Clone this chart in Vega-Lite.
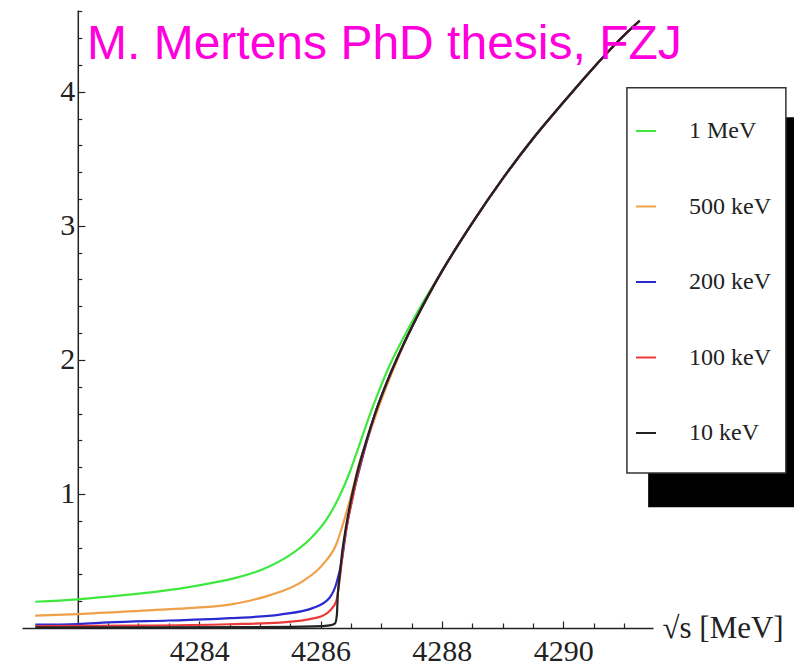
{
  "$schema": "https://vega.github.io/schema/vega-lite/v6.json",
  "width": 631,
  "height": 618,
  "autosize": {"type": "none"},
  "padding": {"left": 22, "top": 10, "right": 141, "bottom": 43},
  "background": "white",
  "title": {"text": "M. Mertens PhD thesis, FZJ", "anchor": "start", "frame": "group", "orient": "top", "offset": -48, "dx": 65, "dy": 49, "baseline": "alphabetic", "font": "Liberation Sans", "fontSize": 48, "fontWeight": "normal", "color": "#ff00dd"},
  "config": {"view": {"stroke": null}},
  "resolve": {"axis": {"x": "independent", "y": "independent"}},
  "layer": [
    {
      "data": {"values": [
        {"E":4281.3,"v":0.196,"res":"1 MeV"},{"E":4282,"v":0.214,"res":"1 MeV"},{"E":4282.5,"v":0.234,"res":"1 MeV"},{"E":4283.24,"v":0.268,"res":"1 MeV"},{"E":4283.8,"v":0.303,"res":"1 MeV"},{"E":4284.3,"v":0.344,"res":"1 MeV"},{"E":4284.62,"v":0.376,"res":"1 MeV"},{"E":4285.05,"v":0.438,"res":"1 MeV"},{"E":4285.5,"v":0.545,"res":"1 MeV"},{"E":4285.82,"v":0.66,"res":"1 MeV"},{"E":4286.1,"v":0.81,"res":"1 MeV"},{"E":4286.32,"v":0.99,"res":"1 MeV"},{"E":4286.48,"v":1.16,"res":"1 MeV"},{"E":4286.59,"v":1.3,"res":"1 MeV"},{"E":4286.87,"v":1.66,"res":"1 MeV"},{"E":4287.14,"v":1.96,"res":"1 MeV"},{"E":4287.42,"v":2.21,"res":"1 MeV"},{"E":4287.69,"v":2.43,"res":"1 MeV"},{"E":4288,"v":2.66,"res":"1 MeV"},{"E":4288.5,"v":3.02,"res":"1 MeV"},{"E":4289,"v":3.35,"res":"1 MeV"},{"E":4289.5,"v":3.65,"res":"1 MeV"},{"E":4290,"v":3.92,"res":"1 MeV"},{"E":4290.5,"v":4.18,"res":"1 MeV"},{"E":4291,"v":4.42,"res":"1 MeV"},{"E":4291.26,"v":4.53,"res":"1 MeV"},

        {"E":4281.3,"v":0.092,"res":"500 keV"},{"E":4282,"v":0.104,"res":"500 keV"},{"E":4283.24,"v":0.134,"res":"500 keV"},{"E":4283.9,"v":0.15,"res":"500 keV"},{"E":4284.5,"v":0.175,"res":"500 keV"},{"E":4284.85,"v":0.205,"res":"500 keV"},{"E":4285.17,"v":0.245,"res":"500 keV"},{"E":4285.71,"v":0.35,"res":"500 keV"},{"E":4286.04,"v":0.475,"res":"500 keV"},{"E":4286.26,"v":0.625,"res":"500 keV"},{"E":4286.4,"v":0.82,"res":"500 keV"},{"E":4286.54,"v":1.05,"res":"500 keV"},{"E":4286.62,"v":1.2,"res":"500 keV"},{"E":4286.8,"v":1.44,"res":"500 keV"},{"E":4287,"v":1.7,"res":"500 keV"},{"E":4287.2,"v":1.93,"res":"500 keV"},{"E":4287.4,"v":2.14,"res":"500 keV"},{"E":4287.6,"v":2.33,"res":"500 keV"},{"E":4287.8,"v":2.5,"res":"500 keV"},{"E":4288,"v":2.66,"res":"500 keV"},{"E":4288.5,"v":3.02,"res":"500 keV"},{"E":4289,"v":3.35,"res":"500 keV"},{"E":4289.5,"v":3.65,"res":"500 keV"},{"E":4290,"v":3.92,"res":"500 keV"},{"E":4290.5,"v":4.18,"res":"500 keV"},{"E":4291,"v":4.42,"res":"500 keV"},{"E":4291.26,"v":4.53,"res":"500 keV"},

        {"E":4281.3,"v":0.025,"res":"200 keV"},{"E":4282,"v":0.03,"res":"200 keV"},{"E":4282.5,"v":0.042,"res":"200 keV"},{"E":4283.5,"v":0.056,"res":"200 keV"},{"E":4284.3,"v":0.068,"res":"200 keV"},{"E":4284.5,"v":0.073,"res":"200 keV"},{"E":4285.33,"v":0.1,"res":"200 keV"},{"E":4285.88,"v":0.15,"res":"200 keV"},{"E":4286.15,"v":0.226,"res":"200 keV"},{"E":4286.26,"v":0.33,"res":"200 keV"},{"E":4286.35,"v":0.5,"res":"200 keV"},{"E":4286.43,"v":0.75,"res":"200 keV"},{"E":4286.54,"v":1.0,"res":"200 keV"},{"E":4286.65,"v":1.2,"res":"200 keV"},{"E":4286.75,"v":1.37,"res":"200 keV"},{"E":4286.9,"v":1.6,"res":"200 keV"},{"E":4287.1,"v":1.84,"res":"200 keV"},{"E":4287.3,"v":2.05,"res":"200 keV"},{"E":4287.6,"v":2.33,"res":"200 keV"},{"E":4287.8,"v":2.5,"res":"200 keV"},{"E":4288,"v":2.66,"res":"200 keV"},{"E":4288.5,"v":3.02,"res":"200 keV"},{"E":4289,"v":3.35,"res":"200 keV"},{"E":4289.5,"v":3.65,"res":"200 keV"},{"E":4290,"v":3.92,"res":"200 keV"},{"E":4290.5,"v":4.18,"res":"200 keV"},{"E":4291,"v":4.42,"res":"200 keV"},{"E":4291.26,"v":4.53,"res":"200 keV"},

        {"E":4281.3,"v":0.015,"res":"100 keV"},{"E":4283,"v":0.018,"res":"100 keV"},{"E":4284.5,"v":0.028,"res":"100 keV"},{"E":4285.33,"v":0.04,"res":"100 keV"},{"E":4285.94,"v":0.077,"res":"100 keV"},{"E":4286.15,"v":0.127,"res":"100 keV"},{"E":4286.26,"v":0.2,"res":"100 keV"},{"E":4286.32,"v":0.375,"res":"100 keV"},{"E":4286.37,"v":0.575,"res":"100 keV"},{"E":4286.45,"v":0.8,"res":"100 keV"},{"E":4286.52,"v":0.95,"res":"100 keV"},{"E":4286.6,"v":1.12,"res":"100 keV"},{"E":4286.75,"v":1.38,"res":"100 keV"},{"E":4286.9,"v":1.6,"res":"100 keV"},{"E":4287.1,"v":1.84,"res":"100 keV"},{"E":4287.3,"v":2.05,"res":"100 keV"},{"E":4287.6,"v":2.33,"res":"100 keV"},{"E":4287.8,"v":2.5,"res":"100 keV"},{"E":4288,"v":2.66,"res":"100 keV"},{"E":4288.5,"v":3.02,"res":"100 keV"},{"E":4289,"v":3.35,"res":"100 keV"},{"E":4289.5,"v":3.65,"res":"100 keV"},{"E":4290,"v":3.92,"res":"100 keV"},{"E":4290.5,"v":4.18,"res":"100 keV"},{"E":4291,"v":4.42,"res":"100 keV"},{"E":4291.26,"v":4.53,"res":"100 keV"},

        {"E":4281.3,"v":0.005,"res":"10 keV"},{"E":4283,"v":0.005,"res":"10 keV"},{"E":4285,"v":0.007,"res":"10 keV"},{"E":4285.9,"v":0.012,"res":"10 keV"},{"E":4286.15,"v":0.02,"res":"10 keV"},{"E":4286.24,"v":0.035,"res":"10 keV"},{"E":4286.27,"v":0.1,"res":"10 keV"},{"E":4286.285,"v":0.25,"res":"10 keV"},{"E":4286.3,"v":0.33,"res":"10 keV"},{"E":4286.32,"v":0.41,"res":"10 keV"},{"E":4286.35,"v":0.54,"res":"10 keV"},{"E":4286.4,"v":0.7,"res":"10 keV"},{"E":4286.5,"v":0.95,"res":"10 keV"},{"E":4286.6,"v":1.15,"res":"10 keV"},{"E":4286.75,"v":1.39,"res":"10 keV"},{"E":4286.9,"v":1.6,"res":"10 keV"},{"E":4287.1,"v":1.84,"res":"10 keV"},{"E":4287.3,"v":2.05,"res":"10 keV"},{"E":4287.6,"v":2.33,"res":"10 keV"},{"E":4287.8,"v":2.5,"res":"10 keV"},{"E":4288,"v":2.66,"res":"10 keV"},{"E":4288.5,"v":3.02,"res":"10 keV"},{"E":4289,"v":3.35,"res":"10 keV"},{"E":4289.5,"v":3.65,"res":"10 keV"},{"E":4290,"v":3.92,"res":"10 keV"},{"E":4290.5,"v":4.18,"res":"10 keV"},{"E":4291,"v":4.42,"res":"10 keV"},{"E":4291.26,"v":4.53,"res":"10 keV"}
      ]},
      "mark": {"type": "line", "strokeWidth": 2.2, "interpolate": "monotone"},
      "encoding": {
        "x": {
          "field": "E", "type": "quantitative",
          "scale": {"domain": [4281.08, 4291.48], "nice": false, "zero": false},
          "axis": {
            "orient": "bottom",
            "values": [4284, 4286, 4288, 4290],
            "format": "d",
            "grid": false, "tickSize": -7, "tickWidth": 1.2, "tickColor": "#222",
            "domainColor": "#222", "domainWidth": 1.5,
            "labelFont": "Liberation Serif", "labelFontSize": 30, "labelColor": "#222", "labelPadding": 15,
            "labelOverlap": false, "labelFlush": false,
            "title": "√s [MeV]", "titleX": 640, "titleY": 0, "titleAlign": "left", "titleBaseline": "middle",
            "titleFont": "Liberation Serif", "titleFontSize": 31, "titleFontWeight": "normal", "titleColor": "#222"
          }
        },
        "y": {
          "field": "v", "type": "quantitative",
          "scale": {"domain": [0, 4.61], "nice": false, "zero": false},
          "axis": {
            "orient": "left",
            "values": [1, 2, 3, 4],
            "format": "d",
            "offset": -55.8,
            "grid": false, "tickSize": -7, "tickWidth": 1.2, "tickColor": "#222",
            "domainColor": "#222", "domainWidth": 1.5,
            "labelFont": "Liberation Serif", "labelFontSize": 30, "labelColor": "#222", "labelPadding": 10,
            "labelOverlap": false, "labelFlush": false,
            "title": null
          }
        },
        "color": {
          "field": "res", "type": "nominal",
          "scale": {"domain": ["1 MeV", "500 keV", "200 keV", "100 keV", "10 keV"], "range": ["#3ee83e", "#f0a048", "#2a2ad0", "#ea3a3a", "#222222"]},
          "legend": {
            "orient": "none", "legendX": 612, "legendY": 109, "title": null,
            "symbolType": "stroke", "symbolSize": 400, "symbolStrokeWidth": 2,
            "labelFont": "Liberation Serif", "labelFontSize": 24, "labelColor": "#222", "labelOffset": 31,
            "rowPadding": 51.5, "padding": 0
          }
        }
      }
    },
    {
      "data": {"values": [{}]},
      "mark": {"type": "rect", "color": "black"},
      "encoding": {
        "x": {"datum": 4291.4, "type": "quantitative",
          "axis": {"orient": "bottom", "values": [4282.5, 4283, 4283.5, 4284.5, 4285, 4285.5, 4286.5, 4287, 4287.5, 4288.5, 4289, 4289.5, 4290.5, 4291], "labels": false, "domain": false, "grid": false, "tickSize": -5, "tickWidth": 1.2, "tickColor": "#222", "title": null}},
        "x2": {"datum": 4294.06},
        "y": {"datum": 3.81, "type": "quantitative",
          "axis": {"orient": "left", "offset": -55.8, "values": [0.2, 0.4, 0.6, 0.8, 1.2, 1.4, 1.6, 1.8, 2.2, 2.4, 2.6, 2.8, 3.2, 3.4, 3.6, 3.8, 4.2, 4.4, 4.6], "labels": false, "domain": false, "grid": false, "tickSize": -4, "tickWidth": 1.2, "tickColor": "#222", "title": null}},
        "y2": {"datum": 0.9}
      }
    },
    {
      "data": {"values": [{}]},
      "mark": {"type": "rect", "fill": "white", "stroke": "#333", "strokeWidth": 1.5},
      "encoding": {
        "x": {"datum": 4291.05, "type": "quantitative", "axis": null},
        "x2": {"datum": 4293.67},
        "y": {"datum": 4.03, "type": "quantitative", "axis": null},
        "y2": {"datum": 1.157}
      }
    }
  ]
}
